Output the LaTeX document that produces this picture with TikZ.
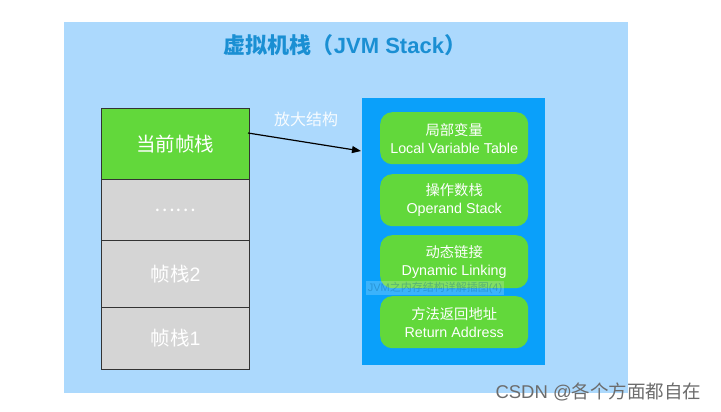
\documentclass[tikz,border=0pt]{standalone}
\usepackage{fontspec}
\setmainfont{Liberation Sans}
\newfontfamily\cjk{Noto Sans CJK SC}
\usetikzlibrary{arrows.meta}
\definecolor{bgblue}{HTML}{ACD9FD}
\definecolor{boxblue}{HTML}{0AA0FA}
\definecolor{jgreen}{HTML}{62D83B}
\definecolor{jgray}{HTML}{D5D5D5}
\definecolor{titleblue}{HTML}{1A8FD3}
\definecolor{edge}{HTML}{333333}
\tikzset{
  stackbox/.style={draw=edge, line width=0.9pt, anchor=north west, inner sep=0pt,
    minimum width=148pt, text=white, font=\fontsize{19.5}{21}\selectfont},
  partbox/.style={fill=jgreen, rounded corners=12pt, anchor=north west, inner sep=0pt,
    minimum width=148pt, minimum height=52pt, text=white, align=center,
    font=\fontsize{14.3}{18}\selectfont},
}
\begin{document}
\begin{tikzpicture}[x=1pt,y=-1pt]
\useasboundingbox[fill=white] (0,0) rectangle (721,412);
\fill[bgblue] (64,22) rectangle (628,393);
\node[text=titleblue, font=\bfseries\fontsize{22}{24}\selectfont] (title) at (345,45) {{\cjk 虚拟机栈（}JVM Stack{\cjk ）}};
% left stack
\node[stackbox, fill=jgreen, minimum height=71pt] (cur) at (101,108) {\cjk 当前帧栈};
\node[stackbox, fill=jgray, minimum height=61pt] (dots) at (101,179) {\cjk ……};
\node[stackbox, fill=jgray, minimum height=67pt] (f2) at (101,240) {{\cjk 帧栈}2};
\node[stackbox, fill=jgray, minimum height=62pt] (f1) at (101,307) {{\cjk 帧栈}1};
% right frame
\node[fill=boxblue, anchor=north west, inner sep=0pt, minimum width=183pt, minimum height=267pt] (frame) at (362,98) {};
\node[partbox] (p1) at (380,112) {{\cjk 局部变量}\\Local Variable Table};
\node[partbox] (p2) at (380,174) {{\cjk 操作数栈}\\Operand Stack};
\node[partbox, minimum height=53pt] (p3) at (380,235) {{\cjk 动态链接}\\Dynamic Linking};
\node[partbox] (p4) at (380,296) {{\cjk 方法返回地址}\\Return Address};
% watermark in frame
\node[fill=white, fill opacity=0.2, text opacity=0.35, text=boxblue!60!black, inner sep=1.5pt, font=\fontsize{11}{12}\selectfont] (wm) at (435,288) {JVM{\cjk 之内存结构详解插图}(4)};
% arrow
\node[text=white!92!bgblue, font=\fontsize{16}{18}\selectfont] (lbl) at (306,119) {\cjk 放大结构};
\coordinate (as) at (248,133);
\coordinate (ae) at (361,151);
\draw[black, line width=1.2pt, -{Triangle[length=9pt,width=7pt]}] (as) -- (ae);
% csdn watermark
\node[text=gray!85!black, font=\fontsize{18.5}{20}\selectfont, anchor=west] (csdn) at (492,392) {CSDN @{\cjk 各个方面都自在}};
\end{tikzpicture}
\end{document}
